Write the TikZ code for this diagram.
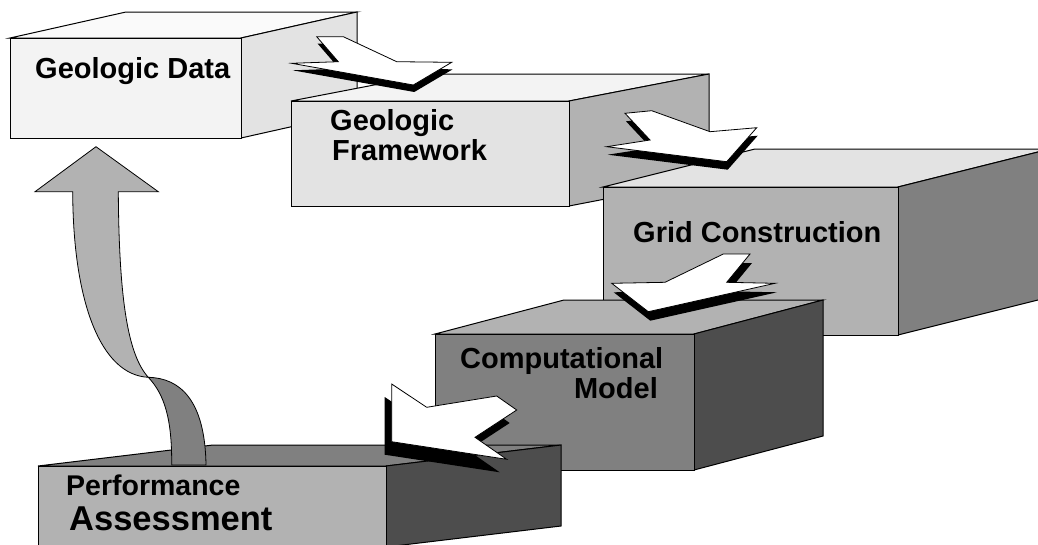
\documentclass[tikz,border=0pt]{standalone}
\usepackage{fontspec}
\setmainfont{Liberation Sans}
\definecolor{gA}{HTML}{FAFAFA}
\definecolor{gB}{HTML}{F3F3F3}
\definecolor{gC}{HTML}{E3E3E3}
\definecolor{gD}{HTML}{B2B2B2}
\definecolor{gE}{HTML}{808080}
\definecolor{gF}{HTML}{4D4D4D}
\tikzset{
  boxline/.style={draw=black,line width=1,line join=miter},
  arrowline/.style={draw=black,line width=0.8,line join=miter},
  lbl/.style={inner sep=0pt,font=\fontsize{29}{30}\selectfont\bfseries}
}
% #1 x1, #2 y1, #3 x2, #4 y2, #5 dx, #6 dy, #7 front, #8 top, #9 side
\newcommand\mycube[9]{%
  \filldraw[boxline,fill=#8] (#1,#2) -- ++(#5,#6) -- ++({#3-#1},0) -- (#3,#2) -- cycle;
  \filldraw[boxline,fill=#9] (#3,#2) -- ++(#5,#6) -- ++(0,{#4-#2}) -- (#3,#4) -- cycle;
  \filldraw[boxline,fill=#7] (#1,#2) rectangle (#3,#4);
}
% #1 shadow shift, #2..#8 points
\newcommand\zarrow[8]{%
  \fill[black,shift={#1}] #2 -- #3 -- #4 -- #5 -- #6 -- #7 -- #8 -- cycle;
  \filldraw[arrowline,fill=white] #2 -- #3 -- #4 -- #5 -- #6 -- #7 -- #8 -- cycle;
}
\begin{document}
\begin{tikzpicture}[x=1pt,y=-1pt]
\useasboundingbox (0,0) rectangle (1038,544);
\clip (0,0) rectangle (1038,544);
\fill[white] (0,0) rectangle (1038,544);

% Geologic Data
\mycube{10}{38}{241}{138}{116}{-26}{gB}{gA}{gC}
\node[lbl,anchor=base west] (gd) at (35,78) {Geologic Data};

% Geologic Framework
\mycube{291}{101}{569}{206}{140}{-27}{gC}{gB}{gD}
\node[lbl,anchor=base west] (gf1) at (330,130) {Geologic};
\node[lbl,anchor=base west] (gf2) at (332,160) {Framework};
\zarrow{(1,7)}{(316.7,36.7)}{(343.3,36.7)}{(396.7,61.7)}{(451.7,62.3)}{(413.3,85)}{(291.7,63.3)}{(338.3,61.7)}

% Grid Construction
\mycube{603}{187}{898}{335}{152}{-38}{gD}{gC}{gE}
\node[lbl,anchor=base west] (gc) at (633,242) {Grid Construction};
\zarrow{(1,8)}{(625,113.3)}{(651.7,110.7)}{(710,131.7)}{(756.7,127.7)}{(726.7,161.7)}{(606.7,146.7)}{(650,140)}

% Computational Model
\mycube{435}{334}{694}{470}{129}{-34}{gE}{gD}{gF}
\node[lbl,anchor=base west] (cm1) at (460,368) {Computational};
\node[lbl,anchor=base east] (cm2) at (658,398) {Model};
\zarrow{(2,9)}{(723.3,254)}{(750,254)}{(726.7,282.3)}{(775,283.3)}{(648.3,311.7)}{(611.7,283.3)}{(665,282.3)}

% Performance Assessment
\mycube{38}{466}{386}{547}{175}{-21}{gD}{gE}{gF}
\node[lbl,anchor=base west,font=\fontsize{28.5}{30}\selectfont\bfseries] (pa1) at (66,495) {Performance};
\node[lbl,anchor=base west,font=\fontsize{34.5}{36}\selectfont\bfseries] (pa2) at (69,530) {Assessment};
\zarrow{(-7,13)}{(391.7,384)}{(426.7,407.3)}{(496.7,396)}{(516.7,410)}{(475,437.3)}{(506.7,459.3)}{(391.7,441.7)}

% feedback ribbon arrow
\filldraw[arrowline,fill=gE] (148.3,377.3) .. controls (180,378) and (205,400) .. (206,465)
  -- (171.7,465) .. controls (172,420) and (165,395) .. (148.3,377.3) -- cycle;
\filldraw[arrowline,fill=gD] (35,191.7) -- (96,146.7) -- (158.3,191.7) -- (118.3,191.7)
  .. controls (119,300) and (128,355) .. (148.3,377.3)
  .. controls (100,375) and (73,300) .. (72.7,191.7) -- cycle;
\end{tikzpicture}
\end{document}
